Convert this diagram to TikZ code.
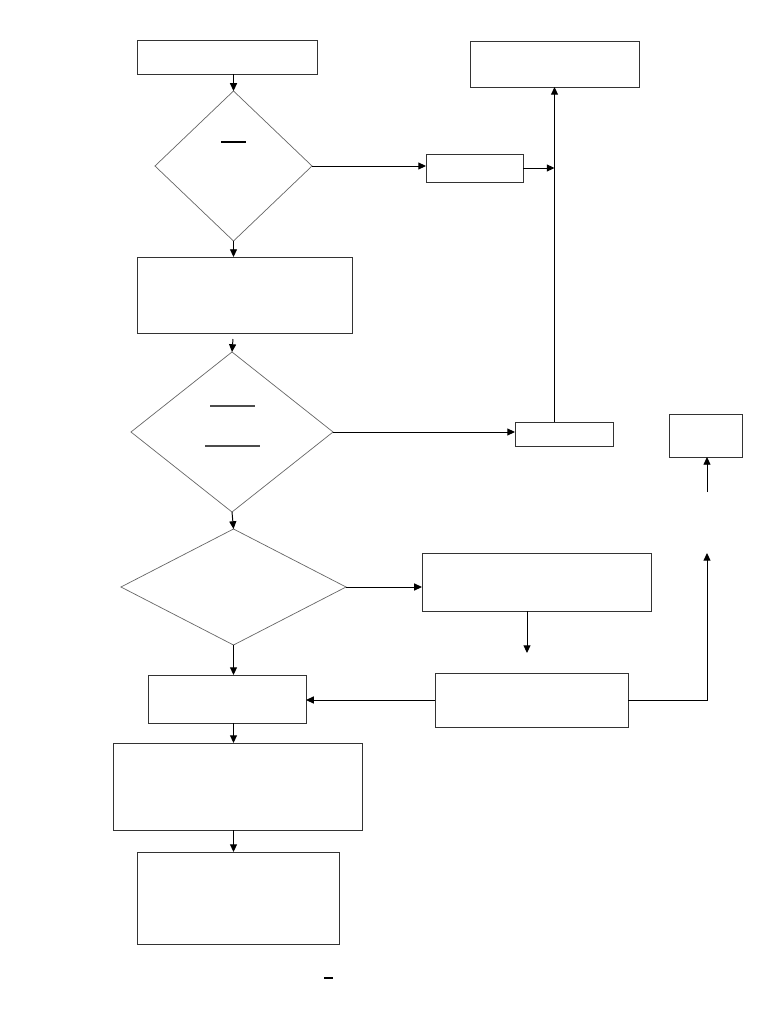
\documentclass[tikz,border=0pt]{standalone}
\usetikzlibrary{shapes.geometric,arrows.meta}

\tikzset{
  box/.style={draw=black!80, line width=0.6pt, inner sep=0pt, outer sep=0pt},
  decision/.style={diamond, draw=black!60, line width=0.5pt, inner sep=0pt, outer sep=0pt},
  flow/.style={-{Triangle[length=5.5pt,width=5pt]}, line width=0.7pt},
}

\begin{document}
\begin{tikzpicture}[x=0.025cm, y=-0.025cm]
        \useasboundingbox (0,0) rectangle (768,1024);

        % left column
        \node [box, minimum width=4.5cm, minimum height=0.85cm] (start) at (227,57) {};
        \node [decision, minimum width=3.925cm, minimum height=3.75cm] (check1) at (233.5,166) {};
        \node [box, minimum width=5.375cm, minimum height=1.9cm] (prep) at (244.5,295) {};
        \node [decision, minimum width=5.05cm, minimum height=4cm] (check2) at (232,432) {};
        \node [decision, minimum width=5.625cm, minimum height=2.9cm] (check3) at (233.5,587) {};
        \node [box, minimum width=3.95cm, minimum height=1.2cm] (merge) at (227,699) {};
        \node [box, minimum width=6.225cm, minimum height=2.175cm] (process) at (237.5,786.5) {};
        \node [box, minimum width=5.05cm, minimum height=2.3cm] (finish) at (238,898) {};

        % right side
        \node [box, minimum width=4.225cm, minimum height=1.15cm] (result) at (554.5,64) {};
        \node [box, minimum width=2.425cm, minimum height=0.7cm] (branchA) at (474.5,168) {};
        \node [box, minimum width=2.45cm, minimum height=0.6cm] (branchB) at (564,434) {};
        \node [box, minimum width=1.825cm, minimum height=1.075cm] (side) at (705.5,435.5) {};
        \node [box, minimum width=5.725cm, minimum height=1.45cm] (handle) at (536.5,582) {};
        \node [box, minimum width=4.825cm, minimum height=1.35cm] (review) at (531.5,700) {};

        \coordinate (gap) at (233,339);
        \coordinate (down) at (527,653);
        \coordinate (up) at (707,553);
        \coordinate (sidein) at (707,492);

          \draw [line width=1.2pt] (221,142) -- (246,142);
          \draw [black!70, line width=0.8pt] (210,406) -- (255,406);
          \draw [black!70, line width=0.8pt] (205,446) -- (260,446);
          \draw [line width=1.6pt] (324,978) -- (333,978);

        \draw [flow] (check1.north |- start.south) -- (check1.north);
        \draw [flow] (check1.south) -- (check1.south |- prep.north);
        \draw [flow] (check1.east) -- (check1.east -| branchA.west);
        \draw [flow] (branchA.east) -- (branchA.east -| result.south);
        \draw [flow] (branchB.north -| result.south) -- (result.south);
        \draw [flow] (gap) -- (check2.north);
        \draw [flow] (check2.east) -- (check2.east -| branchB.west);
        \draw [flow] (check2.south) -- (check3.north);
        \draw [flow] (check3.east) -- (check3.east -| handle.west);
        \draw [flow] (handle.south -| down) -- (down);
        \draw [flow] (review.west) -- (review.west -| merge.east);
        \draw [flow] (review.east) -| (up);
        \draw [flow] (sidein) -- (sidein |- side.south);
        \draw [flow] (check3.south) -- (check3.south |- merge.north);
        \draw [flow] (check3.south |- merge.south) -- (check3.south |- process.north);
        \draw [flow] (check3.south |- process.south) -- (check3.south |- finish.north);
    \end{tikzpicture}
\end{document}
